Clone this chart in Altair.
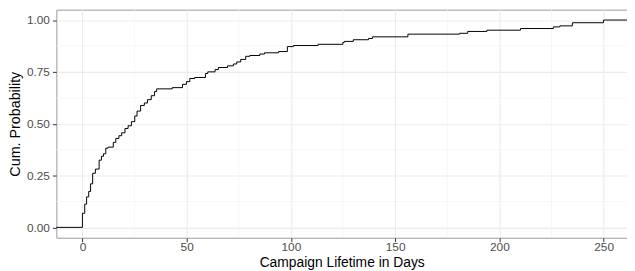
import altair as alt
import pandas as pd

# ECDF steps (day, cumulative probability after the step)
days = [-20, 0, 1.1, 2.0, 3.0, 3.9, 4.9, 6.2, 8.0, 9.1, 10.1, 11.2, 12.3, 14.8, 16.0, 17.5,
        18.8, 20.4, 21.9, 23.5, 25.1, 26.2, 27.9, 29.7, 31.2, 33.0, 34.6, 35.6, 43.1, 48.0,
        49.9, 51.5, 53.8, 59.0, 60.1, 63.6, 65.2, 69.6, 72.4, 74.0, 75.9, 78.3, 80.3, 85.1,
        87.3, 94.1, 98.3, 101.2, 113.0, 124.9, 125.6, 129.9, 137.2, 139.1, 156.1, 180.9,
        184.8, 194.0, 210.1, 225.9, 229.0, 235.0, 249.9, 275.0]
probs = [0, 0.068, 0.112, 0.147, 0.173, 0.21, 0.261, 0.281, 0.324, 0.343, 0.355, 0.382,
         0.387, 0.41, 0.429, 0.442, 0.456, 0.477, 0.49, 0.51, 0.537, 0.561, 0.588, 0.6,
         0.616, 0.635, 0.655, 0.668, 0.674, 0.69, 0.703, 0.718, 0.723, 0.742, 0.75, 0.761,
         0.771, 0.779, 0.788, 0.798, 0.81, 0.825, 0.829, 0.836, 0.842, 0.848, 0.872, 0.877,
         0.883, 0.892, 0.897, 0.905, 0.911, 0.919, 0.932, 0.936, 0.945, 0.951, 0.959, 0.967,
         0.972, 0.987, 1.0, 1.0]

x_ticks = [0, 50, 100, 150, 200, 250]
y_ticks = [0.0, 0.25, 0.5, 0.75, 1.0]
x_minor = [25, 75, 125, 175, 225]
y_minor = [0.125, 0.375, 0.625, 0.875]

x_domain = [-12.5, 261.2]
y_domain = [-0.05, 1.05]

df = pd.DataFrame({"days": days, "prob": probs})

xs = alt.Scale(domain=x_domain, nice=False, zero=False)
ys = alt.Scale(domain=y_domain, nice=False, zero=False)
x_axis = alt.Axis(values=x_ticks, format="d", title="Campaign Lifetime in Days",
                  titlePadding=3, labelPadding=0, titleFontSize=14)
y_axis = alt.Axis(values=y_ticks, format=".2f", title="Cum. Probability",
                  titleX=-41, titleBaseline="middle", titleAngle=270, labelPadding=3)

minor_v = alt.Chart(pd.DataFrame({"days": x_minor})).mark_rule(
    color="#F4F4F4", strokeWidth=0.7
).encode(x=alt.X("days:Q", scale=xs, axis=x_axis))

minor_h = alt.Chart(pd.DataFrame({"prob": y_minor})).mark_rule(
    color="#F4F4F4", strokeWidth=0.7
).encode(y=alt.Y("prob:Q", scale=ys, axis=y_axis))

line = alt.Chart(df).mark_line(
    interpolate="step-after", color="black", strokeWidth=1, clip=True
).encode(
    x=alt.X("days:Q", scale=xs, axis=x_axis),
    y=alt.Y("prob:Q", scale=ys, axis=y_axis),
)

chart = alt.layer(minor_v, minor_h, line).properties(
    width=578, height=231,
    autosize=alt.AutoSizeParams(type="none"),
    padding={"left": 49, "top": 0, "right": 0, "bottom": 32},
).configure(
    font="Liberation Sans"
).configure_view(
    stroke="#9A9A9A", strokeWidth=1
).configure_axis(
    domain=False,
    grid=True, gridColor="#EBEBEB", gridWidth=1.1,
    ticks=True, tickColor="#333333", tickSize=4, tickWidth=1,
    labelFont="Liberation Sans", labelFontSize=12, labelColor="#4D4D4D",
    titleFont="Liberation Sans", titleFontSize=14.5, titleFontWeight="normal", titleColor="black",
)

chart.save("out.html", embed_options={"renderer": "svg", "actions": False})
